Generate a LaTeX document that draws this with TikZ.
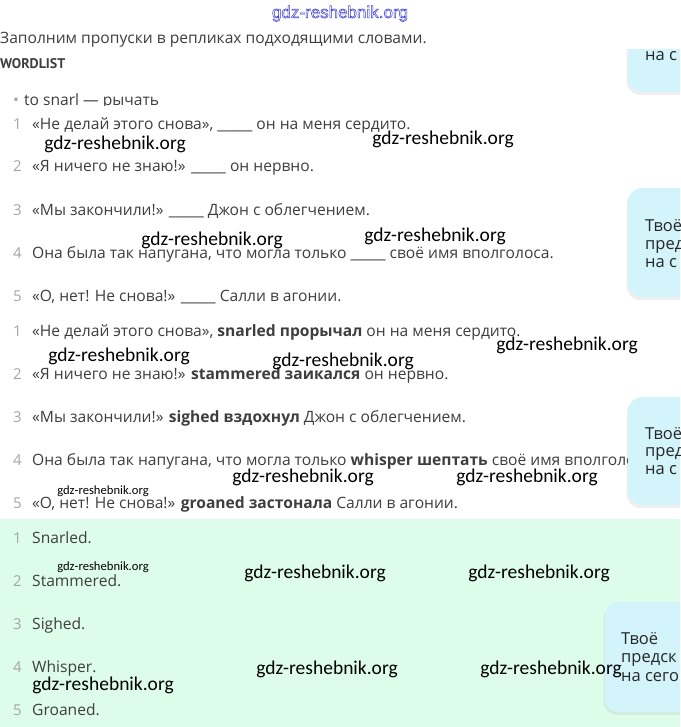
\documentclass[tikz,border=0pt]{standalone}
\usepackage{fontspec}
\setmainfont{Open Sans}
\newfontfamily\wmfont{Carlito}
\newfontfamily\topfont{Liberation Sans}
\newfontfamily\headfont{PT Sans}
\usetikzlibrary{shadows}
\definecolor{txtc}{RGB}{62,62,62}
\definecolor{numc}{RGB}{165,165,165}
\definecolor{boxc}{RGB}{211,244,251}
\definecolor{greenc}{RGB}{222,252,234}
\definecolor{wmblue}{RGB}{55,55,205}
\tikzset{
  txt/.style={anchor=base west, inner sep=0pt, text=txtc, font=\fontsize{15.6}{18}\selectfont},
  num/.style={anchor=base west, inner sep=0pt, text=numc, font=\fontsize{15}{18}\selectfont},
  wm/.style={anchor=base, inner sep=0pt, text=black, font=\wmfont\fontsize{19.5}{22}\selectfont},
  wmsmall/.style={anchor=base, inner sep=0pt, text=black, font=\wmfont\fontsize{12.6}{14}\selectfont},
  sidebox/.style={fill=boxc, draw=none, rounded corners=14pt, drop shadow={opacity=0.12, shadow xshift=-1.5pt, shadow yshift=-3pt}},
  boxtxt/.style={anchor=base west, inner sep=0pt, text=black!85, font=\fontsize{16.5}{18}\selectfont},
}
\begin{document}
\begin{tikzpicture}[x=1pt,y=-1pt]
\useasboundingbox (0,0) rectangle (680,727);
\fill[white] (0,0) rectangle (680,727);
\clip (0,0) rectangle (680,727);
% green area
\fill[greenc] (0,519) rectangle (680,727);
% header
\node[anchor=base, inner sep=0pt, text=wmblue, font=\topfont\fontsize{17}{20}\selectfont] (topwm) at (340,18) {\special{pdf:code 1 Tr 0.5 w}gdz-reshebnik.org\special{pdf:code 0 Tr}};
\node[txt] (intro) at (0,44) {Заполним пропуски в репликах подходящими словами.};
\node[txt, font=\headfont\bfseries\fontsize{14}{17}\selectfont] (wl) at (0,69) {WORDLIST};
\begin{scope}
\clip (0,0) rectangle (600,106);
\node[txt, text=numc] (bul) at (13,106) {•};
\node[txt] (snarl) at (24,106) {to snarl — рычать};
\end{scope}
% questions
\node[num] (q1n) at (13,130) {1};
\node[txt] (q1) at (32,130) {«Не делай этого снова», \_\_\_\_\_ он на меня сердито.};
\node[num] (q2n) at (13,172) {2};
\node[txt] (q2) at (32,172) {«Я ничего не знаю!» \_\_\_\_\_ он нервно.};
\node[num] (q3n) at (13,215) {3};
\node[txt] (q3) at (32,215) {«Мы закончили!» \_\_\_\_\_ Джон с облегчением.};
\node[num] (q4n) at (13,258) {4};
\node[txt] (q4) at (32,258) {Она была так напугана, что могла только \_\_\_\_\_ своё имя вполголоса.};
\node[num] (q5n) at (13,301) {5};
\node[txt] (q5) at (32,301) {«О, нет! Не снова!» \_\_\_\_\_ Салли в агонии.};
% answers
\node[num] (a1n) at (13,336) {1};
\node[txt] (a1) at (32,336) {«Не делай этого снова», \textbf{snarled прорычал} он на меня сердито.};
\node[num] (a2n) at (13,379) {2};
\node[txt] (a2) at (32,379) {«Я ничего не знаю!» \textbf{stammered заикался} он нервно.};
\node[num] (a3n) at (13,422) {3};
\node[txt] (a3) at (32,422) {«Мы закончили!» \textbf{sighed вздохнул} Джон с облегчением.};
\node[num] (a4n) at (13,465) {4};
\node[txt] (a4) at (32,465) {Она была так напугана, что могла только \textbf{whisper шептать} своё имя вполголоса};
\node[num] (a5n) at (13,508) {5};
\node[txt] (a5) at (32,508) {«О, нет! Не снова!» \textbf{groaned застонала} Салли в агонии.};
% green answers
\node[num] (g1n) at (13,543) {1};
\node[txt] (g1) at (32,543) {Snarled.};
\node[num] (g2n) at (13,586) {2};
\node[txt] (g2) at (32,586) {Stammered.};
\node[num] (g3n) at (13,629) {3};
\node[txt] (g3) at (32,629) {Sighed.};
\node[num] (g4n) at (13,672) {4};
\node[txt] (g4) at (32,672) {Whisper.};
\node[num] (g5n) at (13,715) {5};
\node[txt] (g5) at (32,715) {Groaned.};
% side boxes
\begin{scope}
\clip (580,50) rectangle (680,120);
\fill[sidebox] (628,20) rectangle (720,92);
\node[boxtxt] (b1t) at (645,61) {на с};
\end{scope}
\fill[sidebox] (628,188) rectangle (720,297);
\node[boxtxt] (b2a) at (645,231) {Твоё};
\node[boxtxt] (b2b) at (645,249) {пред};
\node[boxtxt] (b2c) at (645,267) {на с};
\fill[sidebox] (628,397) rectangle (720,505);
\node[boxtxt] (b3a) at (645,439) {Твоё};
\node[boxtxt] (b3b) at (645,456) {пред};
\node[boxtxt] (b3c) at (645,474) {на с};
\fill[sidebox] (605,602) rectangle (720,712);
\node[boxtxt] (b4a) at (621,644) {Твоё};
\node[boxtxt] (b4b) at (621,662) {предск};
\node[boxtxt] (b4c) at (621,681) {на сего};
% watermarks
\node[wm] (w1) at (115,150) {gdz-reshebnik.org};
\node[wm] (w2) at (443,145) {gdz-reshebnik.org};
\node[wm] (w3) at (212,245) {gdz-reshebnik.org};
\node[wm] (w4) at (435,241) {gdz-reshebnik.org};
\node[wm] (w5) at (119,361) {gdz-reshebnik.org};
\node[wm] (w6) at (343,366) {gdz-reshebnik.org};
\node[wm] (w7) at (567,350) {gdz-reshebnik.org};
\node[wm] (w8) at (303,482) {gdz-reshebnik.org};
\node[wm] (w9) at (527,482) {gdz-reshebnik.org};
\node[wmsmall] (w10) at (103,494) {gdz-reshebnik.org};
\node[wmsmall] (w11) at (103,570) {gdz-reshebnik.org};
\node[wm] (w12) at (315,578) {gdz-reshebnik.org};
\node[wm] (w13) at (539,578) {gdz-reshebnik.org};
\node[wm] (w14) at (327,674) {gdz-reshebnik.org};
\node[wm] (w15) at (551,674) {gdz-reshebnik.org};
\node[wm] (w16) at (103,690) {gdz-reshebnik.org};
\end{tikzpicture}
\end{document}
